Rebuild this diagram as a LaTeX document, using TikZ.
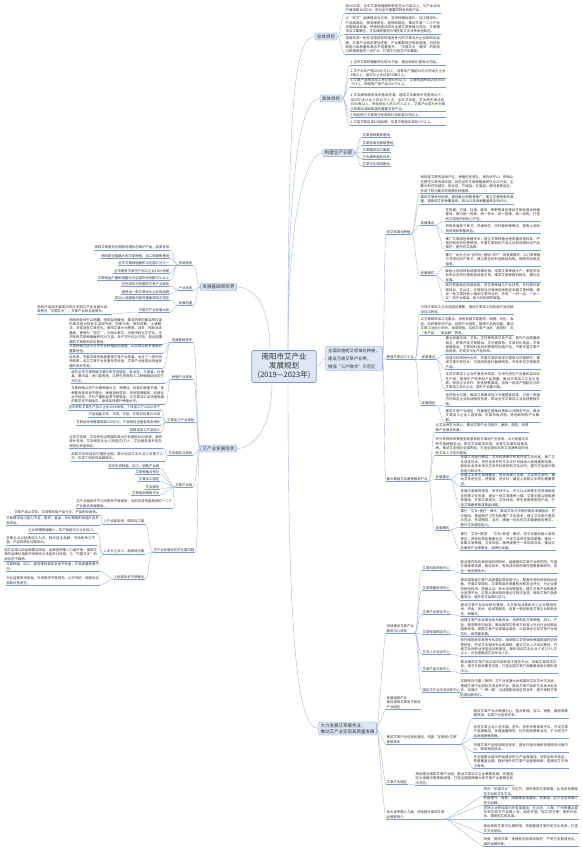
\documentclass[tikz,border=0pt]{standalone}
\usepackage{fontspec}
\setmainfont{Noto Sans CJK SC}
\XeTeXlinebreaklocale "zh"
\XeTeXlinebreakskip=0pt plus 1pt
\definecolor{txt}{HTML}{333333}
\definecolor{linkc}{HTML}{A7BADB}
\definecolor{ulc}{HTML}{7D9BD1}
\definecolor{boxfill}{HTML}{DCE6F4}
\definecolor{boxdraw}{HTML}{7E9ED3}
\newcommand\leaffont{\fontsize{3.4}{4.4}\selectfont}
\newcommand\boxfont{\fontsize{4.6}{5.6}\selectfont}
\newcommand\bigfont{\fontsize{4.3}{8}\selectfont}
\newcommand\bigfontb{\fontsize{4.5}{6}\selectfont}
\newcommand\rootfont{\fontsize{7.5}{9}\selectfont}
\tikzset{
  link/.style={draw=linkc, line width=0.4pt},
  uline/.style={draw=ulc, line width=0.5pt},
  tor/.style={out=0, in=180, out distance=#1, in distance=#1},
  tor/.default=4pt,
  tol/.style={out=180, in=0, out distance=#1, in distance=#1},
  tol/.default=4pt,
  rootbox/.style={draw=boxdraw, fill=boxfill, line width=0.8pt, rounded corners=2pt,
    font=\rootfont, text=txt, align=center, inner xsep=6pt, inner ysep=3pt},
  mainbox/.style={draw=boxdraw, fill=boxfill, line width=0.4pt, rounded corners=1.2pt,
    font=\boxfont, text=txt, align=center, inner xsep=1.8pt, inner ysep=1.4pt},
  txtline/.style={inner xsep=0.5pt, inner ysep=0.5pt, font=\leaffont, text=txt,
    append after command={\pgfextra{\let\mmnode\tikzlastnode}
      (\mmnode.south west) edge[uline] (\mmnode.south east)}},
  rblock/.style={txtline, anchor=south west, text width=#1, align=left},
  rblock/.default=93pt,
  lblock/.style={txtline, anchor=south east, text width=#1, align=left},
  lblock/.default=93pt,
  rtag/.style={txtline, anchor=south west, align=left},
  ltag/.style={txtline, anchor=south east, align=right},
}
\begin{document}
\begin{tikzpicture}[x=1pt,y=1pt]
\fill[white] (0,0) rectangle (583,-851);
\useasboundingbox (0,0) rectangle (583,-851);

% 中心主题
\node[rootbox] (zx) at (284,-366.5) {南阳市艾产业\\发展规划\\(2019—2023年)};

% 右侧主干
\node[mainbox] (zt) at (326,-36.5) {总体目标};
\node[mainbox] (jt) at (331,-98.5) {具体目标};
\node[mainbox] (qc) at (338.5,-153) {构建全产业链};
\node[mainbox, font=\bigfont, align=left, inner xsep=2.5pt, inner ysep=2pt] (bn1) at (354,-358.5)
  {全面实施宛艾标准化种植，\\建设万亩艾草产业带，\\做强“三产融合”示范区};
\node[mainbox, font=\bigfontb, align=left] (bn2) at (347.5,-728.5)
  {大力发展艾草服务业，\\推动艾产业实现高质量发展};

% 左侧主干
\node[mainbox] (jc) at (218.5,-287) {发展基础和优势};
\node[mainbox] (xz) at (218.5,-448.5) {艾产业发展现状};

% 总体目标
\node[rblock=95pt] (zt1) at (345,-13) {到2023年，全市艾草种植面积稳定在30万亩以上，艾产业综合产值突破300亿元，成为全市重要的特色优势产业。};
\node[rblock=95pt] (zt2) at (345,-34) {以“宛艾”品牌建设为引领，坚持种植标准化、加工精深化、产品高端化、服务康养化、营销网络化，推动艾草一二三产业深度融合发展，把南阳建设成为全国艾草种植示范区、艾草精深加工集聚区、艾灸康养服务引领区和艾文化传承创新区。};
\node[rblock=95pt] (zt3) at (345,-54) {培育形成一批在全国具有较强竞争力的艾草龙头企业和知名品牌，艾草产业链条更加完整，产业集群效应明显增强，科技创新能力和质量标准水平显著提升，“中国艾乡·南阳”的影响力和美誉度进一步扩大，打造千亿级艾产业集群。};

% 具体目标
\node[rblock=95pt] (jt1) at (350,-65) {1.全市艾草种植面积达到30万亩，建设标准化基地10万亩。};
\node[rblock=95pt] (jt2) at (350,-78) {2.艾产业年产值300亿元以上，培育年产值超10亿元的龙头企业5家以上，超亿元企业达到50家以上。};
\node[rblock=95pt] (jt3) at (350,-87) {3.艾草产品精深加工率达到60\%以上，艾草制品种类达到3000个以上，研发推广新产品200个以上。};
\node[rblock=95pt] (jt4) at (350,-111) {4.艾灸康养服务体系基本完善，建成艾灸康养示范基地20个，培训艾灸从业人员10万人次，全市艾灸馆、艾灸养生馆达到5000家以上，带动就业人员30万人以上，艾草产业成为乡村振兴和群众增收致富的重要支柱产业。};
\node[rblock=95pt] (jt5) at (350,-117) {5.制定修订艾草地方标准和行业标准15项以上。};
\node[rblock=95pt] (jt6) at (350,-125) {6.打造艾草区域公用品牌，培育中国驰名商标3个以上。};

% 全产业链
\node[rtag] (qc1) at (362,-137) {艾草良种繁育基地};
\node[rtag] (qc2) at (362,-145) {艾草标准化种植基地};
\node[rtag] (qc3) at (362,-152) {艾草精深加工集群};
\node[rtag] (qc4) at (362,-159) {艾灸康养服务体系};
\node[rtag] (qc5) at (362,-166) {艾草文化旅游融合};

% 宛艾标准化种植
\node[rtag] (la) at (386,-234) {宛艾标准化种植};
\node[rblock] (la1) at (420,-193) {南阳是艾草的道地产区，种植历史悠久，境内伏牛山、桐柏山区野生艾草资源丰富，目前全市艾草种植面积已达25万亩，主要分布在宛城区、卧龙区、方城县、社旗县、唐河县等县区，形成了较为集中的规模化种植带。};
\node[rblock] (la2) at (420,-204) {推进艾草良种选育、提纯复壮和繁育推广，建立艾草种质资源圃，提高宛艾良种覆盖率。到2023年良种覆盖率达到90\%。};
\node[rtag] (la3) at (420,-225) {发展重点};
\node[rblock=95pt] (la31) at (445,-221) {在宛城、方城、社旗、唐河、新野等县区建设艾草标准化种植基地，推行统一良种、统一技术、统一管理、统一收购，打造宛艾道地药材核心产区。};
\node[rblock=95pt] (la32) at (445,-233) {积极发展林下种艾、荒坡种艾、间作套种等模式，提高土地利用效率和种植效益。};
\node[rblock=95pt] (la33) at (445,-250) {推广艾草绿色种植技术，建立艾草种植全程质量追溯体系，严格控制农药化肥使用，开展艾草有机产品认证和地理标志产品保护，提升宛艾品质。};
\node[rtag] (la4) at (420,-275) {发展模式};
\node[rblock=95pt] (la41) at (445,-266) {推行“龙头企业+合作社+基地+农户”的发展模式，以订单种植方式带动农户种艾，建立稳定的利益联结机制，保障农民稳定增收。};
\node[rblock=95pt] (la42) at (445,-282) {鼓励土地流转和适度规模经营，培育艾草种植大户、家庭农场和专业合作社等新型经营主体，推进艾草种植机械化、集约化发展。};
\node[rblock=95pt] (la43) at (445,-301) {依托贫困地区资源优势，将艾草种植与产业扶贫、乡村振兴紧密结合，在山区、丘陵和沿河滩地因地制宜发展艾草种植，建设一批艾草特色小镇和艾草专业村，形成“一村一品、一乡一业”的产业格局，助力农民脱贫致富。};

% 做强艾草加工工业
\node[rtag] (lb) at (386,-359) {做强艾草加工工业};
\node[rblock] (lb1) at (420,-314) {引导艾草加工企业向园区集聚，推动艾草加工由初级产品向精深加工转变。};
\node[rblock] (lb2) at (420,-335) {以艾草精深加工为重点，加快发展艾草医药、保健、日化、食品、纺织等系列产品，延伸产业链条，提高产品附加值，推动艾草工业由小到大、由弱到强，实现艾草产业由“卖原料”向“卖产品”“卖品牌”转变。};
\node[rtag] (lb3) at (421,-359) {发展重点};
\node[rblock=95pt] (lb31) at (445,-354) {重点发展艾绒、艾条、艾柱等传统艾灸产品，提升产品质量和档次；积极开发艾草精油、艾叶提取物、艾草日化用品、艾草保健食品、艾草饲料添加剂等高附加值产品，不断丰富艾草产品种类，形成多元化产品体系。};
\node[rblock=95pt] (lb32) at (445,-369) {加强与科研院所合作，开展艾草药用成分提取与药理研究，推进艾草中药饮片、中成药和医疗器械研发，开发系列艾草医药产品。};
\node[rblock=95pt] (lb33) at (445,-390) {支持艾草加工企业开展技术改造，引进先进生产设备和自动化生产线，提高生产效率和产品质量；推动艾草加工企业与电商、物流企业合作，拓宽销售渠道，培育一批年产值超亿元的艾草加工龙头企业，提升产业集中度。};
\node[rtag] (lb4) at (421,-405) {发展路径};
\node[rblock=95pt] (lb41) at (445,-406) {坚持招大引强，围绕艾草精深加工开展精准招商，引进一批国内外知名企业和战略投资者，带动全市艾草加工业加快提档升级。};
\node[rblock=95pt] (lb42) at (445,-422) {建设艾草产业园区，完善园区基础设施和公共服务平台，推动艾草加工企业入园发展，形成布局合理、特色鲜明的产业集群。};

% 做大做强艾灸康养服务产业
\node[rtag] (lc) at (386,-481) {做大做强艾灸康养服务产业};
\node[rblock] (lc1) at (435,-432) {以艾灸养生为核心，推动艾草产业与医疗、康养、旅游、体育等产业融合发展。};
\node[rblock] (lc2) at (435,-455) {充分发挥张仲景医圣故里和宛艾道地产区优势，大力发展艾灸养生保健服务业，规范艾灸服务标准，培育艾灸服务连锁品牌，推动艾灸馆向全国布局，打造全国知名的艾灸康养目的地和艾灸人才培训基地。};
\node[rtag] (lc3) at (435,-479) {发展重点};
\node[rblock=95pt] (lc31) at (460,-473) {发展艾灸医疗服务，支持各级医疗机构开设艾灸科室，推广艾灸适宜技术，将符合条件的艾灸诊疗项目纳入医保报销范围，鼓励社会资本举办艾灸专科医院和艾灸诊所，提升艾灸医疗服务能力和水平。};
\node[rblock=95pt] (lc32) at (460,-486) {发展艾灸养生保健服务，规范发展艾灸馆、艾灸养生会所，推动艾灸进社区、进家庭、进乡村，满足人民群众多样化健康需求。};
\node[rblock=95pt] (lc33) at (460,-507) {发展艾草康养旅游，依托伏牛山、丹江口水库等生态资源和医圣祠等文化资源，建设一批艾草康养小镇、艾草主题公园和康养基地，开发艾草观光、艾灸体验、养生度假等旅游产品，打造艾草康养旅游精品线路。};
\node[rtag] (lc4) at (435,-530) {发展模式};
\node[rblock=95pt] (lc41) at (460,-527) {推行“艾灸+医疗”模式，推动艾灸与中医药服务深度融合，在中医院、基层医疗卫生机构推广艾灸技术，建立艾灸医疗服务示范点，形成预防、治疗、康复一体化的艾灸健康服务模式，提升艾灸服务能力。};
\node[rblock=95pt] (lc42) at (460,-550) {推行“艾灸+旅游”“艾灸+养老”模式，将艾灸服务融入旅游景区、养老机构和健康社区，开发艾灸养生旅游套餐，建设一批集艾草种植、艾灸体验、康养度假于一体的综合体，推动艾灸康养产业规模化、品牌化发展。};

% 服务中心体系
\node[rtag] (le) at (386,-633) {加快建设艾草产业\\服务中心体系};
\node[rtag] (le1) at (422,-570) {艾草科技研发中心};
\node[rblock=97pt] (le1b) at (460,-573) {联合国内知名高校和科研院所，组建南阳艾草产业研究院，开展艾草种质资源、栽培技术、有效成分和药理作用等基础研究，攻克一批关键技术。};
\node[rtag] (le2) at (422,-590) {艾草质量检测中心};
\node[rblock=97pt] (le2b) at (460,-600) {建设国家级艾草产品质量监督检验中心，配备先进的检验检测设备，开展艾草原料、艾草制品的质量检测和安全评价，为企业提供检验检测、质量认证、技术咨询等服务；建立艾草产品质量安全追溯平台，实现从田间到终端全过程可追溯，保障艾草产品质量安全，提升宛艾品牌公信力。};
\node[rtag] (le3) at (422,-614) {艾草产业孵化中心};
\node[rblock=97pt] (le3b) at (460,-616) {建设艾草产业创业孵化基地，为艾草创业者和中小企业提供场地、资金、技术、培训等服务，培育一批创新型艾草企业和新业态、新模式。};
\node[rtag] (le4) at (422,-634) {艾草标准制定中心};
\node[rblock=97pt] (le4b) at (460,-636) {组建艾草产业标准化技术委员会，加快制定艾草种植、加工、产品、服务等系列标准，推动南阳艾草地方标准上升为行业标准和国家标准，掌握艾草产业发展话语权，以标准化引领艾草产业规范化、高质量发展。};
\node[rtag] (le5) at (422,-654) {艾灸人才培训中心};
\node[rblock=97pt] (le5b) at (460,-656) {依托南阳医学高等专科学校、南阳理工学院张仲景国医国药学院等院校，开设艾灸相关专业和课程，建设艾灸人才培训基地，开展艾灸师职业技能培训和鉴定，每年培训艾灸从业人员2万人次以上，为全国输送艾灸专业人才。};
\node[rtag] (le6) at (422,-671) {艾草产品交易中心};
\node[rblock=97pt] (le6b) at (460,-673) {建设南阳艾草产品交易市场和电子商务平台，发展艾草现货交易、电子交易和期货交易，打造全国艾草产品集散地和价格形成中心。};
\node[rtag] (le7) at (422,-692) {国际艾产业交流合作中心};
\node[rblock=97pt] (le7b) at (460,-697) {定期举办中国（南阳）艾产业发展大会和国际艾灸学术交流会，搭建艾草产业国际交流合作平台，推动艾草产品和艾灸技术走出去，加强与“一带一路”沿线国家和地区的合作，提升南阳艾草的国际影响力。};

% 电商、信息化、园区、品牌
\node[rtag] (lf) at (386,-709) {发展电商产业\\建设南阳艾草电子商务\\产业园区};
\node[rtag] (lg) at (386,-744) {推进艾草产业信息化建设，构建“互联网+艾草”\\营销体系};
\node[rblock=95pt] (lg1) at (473,-718) {建设艾草产业大数据中心，整合种植、加工、销售、服务等数据资源，实现产业信息共享。};
\node[rblock=95pt] (lg2) at (473,-738) {支持艾草企业入驻天猫、京东、拼多多等电商平台，开设艾草产品旗舰店，发展直播带货、社交电商等新业态，扩大宛艾产品网络销售规模。};
\node[rblock=95pt] (lg3) at (473,-752) {完善艾草产品物流配送体系，建设冷链仓储和快递物流分拨中心，降低物流成本。};
\node[rblock=95pt] (lg4) at (473,-768) {在全国重点城市布局建设宛艾产品直营店、体验店和专卖店，构建覆盖全国、辐射海外的艾草产品营销网络，提高宛艾市场占有率。};
\node[rtag] (lh) at (386,-784) {艾草产业园区};
\node[rblock=98pt] (lh1) at (415,-785) {规划建设南阳艾草产业园，推动艾草加工企业集聚发展，完善园区水电路讯等基础设施，打造全国规模最大的艾草产业集聚区和示范区。};
\node[rtag] (li) at (386,-819) {加大宣传推介力度，持续提升南阳艾草\\品牌影响力};
\node[rblock=95pt] (li1) at (483,-796) {举办“中国艾乡”文化节，讲好南阳艾草故事，弘扬张仲景医圣文化和艾灸文化。};
\node[rblock=95pt] (li2) at (483,-805) {利用报刊、电视、网络等各类媒体，多渠道、全方位宣传推介宛艾品牌。};
\node[rblock=95pt] (li3) at (483,-819) {支持企业参加国内外各类展会，在北京、上海、广州等重点城市举办宛艾产品推介会，组织开展“宛艾进万家”等系列活动，提高宛艾知名度。};
\node[rblock=95pt] (li4) at (483,-833) {建设南阳艾草文化博物馆，挖掘整理艾草历史文化资源，打造艾文化地标。};
\node[rblock=95pt] (li5) at (483,-846) {加强“南阳艾草”地理标志和商标保护，严厉打击假冒伪劣，维护品牌形象。};

% 发展基础和优势
\node[ltag] (l1a) at (193,-265) {资源优势};
\node[ltag] (l1a1) at (170,-250) {南阳艾草被列为国家地理标志保护产品，品质优良};
\node[ltag] (l1a2) at (170,-258) {南阳是全国最大的艾草种植、加工和销售基地};
\node[ltag] (l1a3) at (170,-265) {全市艾草种植面积占全国三分之一};
\node[ltag] (l1a4) at (170,-273) {全市拥有艾草生产加工企业1000余家};
\node[ltag] (l1a5) at (170,-280) {艾草制品产量和销量均占全国市场份额70\%以上};
\node[ltag] (l1b) at (193,-290) {产业优势};
\node[ltag] (l1b1) at (170,-286) {已形成较为完整的艾草产业链条};
\node[ltag] (l1b2) at (170,-294) {涌现出一批艾草龙头企业和品牌};
\node[ltag] (l1c) at (193,-305) {发展机遇};
\node[ltag] (l1c1) at (170,-300) {成功入选国家中医药健康旅游示范区};
\node[ltag] (l1c2) at (170,-312) {中国艾产业发展大会};
\node[lblock=74pt] (l1c2a) at (112,-314) {南阳已连续多届成功举办中国艾产业发展大会，被誉为“中国艾乡”，艾草产业知名度提升。};

% 艾产业发展现状
\node[ltag] (l2a) at (193,-342) {发展基础条件};
\node[lblock] (l2a1) at (163,-344) {南阳地处伏牛山南麓、南阳盆地腹地，属亚热带向暖温带过渡的季风型大陆性半湿润气候，四季分明，雨热同期，土壤肥沃，非常适宜艾草生长。南阳艾草叶片肥厚、绒多、挥发油含量高，被誉为“宛艾”，与湖北蕲艾、河南汤阴北艾齐名。全市现有艾草种植面积约25万亩，年产艾叶约20万吨，是全国重要的艾草原料供应基地。};
\node[lblock] (l2a2) at (163,-353) {艾草种植已成为全市农业种植结构调整、山区群众脱贫增收的重要途径。};
\node[lblock] (l2a3) at (163,-368) {近年来，市委市政府高度重视艾草产业发展，出台了一系列扶持政策，设立艾草产业发展专项资金，艾草产业呈现出快速发展的良好态势。};
\node[ltag] (l2b) at (193,-379) {种植产业现状};
\node[lblock] (l2b1) at (165,-383) {目前全市艾草种植主要分布在宛城区、卧龙区、方城县、社旗县、唐河县、淅川县等地，以野生抚育和人工种植相结合的方式为主。};
\node[lblock] (l2b2) at (165,-404) {艾草种植以农户分散种植为主，规模化、标准化程度不高，良种繁育体系尚不健全，种植品种混杂，田间管理粗放，机械化水平较低，艾叶产量和品质不够稳定，与艾草加工业快速发展的需求还不相适应，亟待加快提升种植水平。};
\node[ltag] (l2c) at (195,-422) {艾草加工产业现状};
\node[ltag] (l2c1) at (161,-410) {全市现有艾草生产加工企业1500余家，个体加工户10000多户};
\node[ltag] (l2c2) at (161,-417) {产品涵盖艾条、艾绒、艾贴、艾草日化等10大类};
\node[ltag] (l2c3) at (161,-425) {艾制品年销售额突破100亿元，产品销往全国各地及海外};
\node[ltag] (l2c4) at (161,-432) {但精深加工产品较少};
\node[ltag] (l2d) at (193,-455) {艾灸服务业现状};
\node[lblock] (l2d1) at (163,-448) {全市艾灸馆、艾灸养生店等服务网点已发展到3000余家，遍布城乡各地，艾灸服务从业人员超过3万人，艾灸服务逐步走向规范化和连锁化。};
\node[lblock] (l2d2) at (165,-461) {南阳艾灸师培训已辐射全国，累计培训艾灸从业人员数万人次，形成了较好的品牌效应。};
\node[ltag] (l2e) at (193,-487) {艾草产业链};
\node[ltag] (l2e1) at (160,-468) {初步形成种植、加工、销售产业链};
\node[ltag] (l2e2) at (160,-474) {艾草种植合作社};
\node[ltag] (l2e3) at (160,-481) {艾草加工园区};
\node[ltag] (l2e4) at (160,-489) {艾灸服务};
\node[ltag] (l2e5) at (160,-495) {艾草电商销售平台};
\node[lblock=96pt] (l2e6) at (173,-508) {艾产业链各环节之间联系不够紧密，尚未形成完整高效的一二三产业融合发展格局。};
\node[ltag] (l2f) at (195,-552) {艾产业发展存在的主要问题};
\node[ltag] (l2f1) at (145,-524) {1.产业链条短，精深加工弱};
\node[ltag] (l2f11) at (100,-515) {艾草产品以艾条、艾绒等初级产品为主，产品附加值低。};
\node[lblock] (l2f12) at (100,-525) {艾草精深加工能力不足，医药、食品、日化等高附加值产品开发滞后。};
\node[ltag] (l2f2) at (145,-554) {2.龙头企业少，品牌效应弱};
\node[ltag] (l2f21) at (97,-533) {企业规模普遍偏小，年产值超亿元企业较少。};
\node[lblock=90pt] (l2f22) at (97,-545) {多数企业以贴牌加工为主，缺乏自主品牌，市场竞争力不强，产品同质化问题突出。};
\node[lblock] (l2f23) at (98,-561) {宛艾区域公用品牌建设滞后，品牌宣传推介力度不够，南阳艾草的品牌价值和市场影响力未能充分体现，与“中国艾乡”的地位还不相称。};
\node[ltag] (l2f3) at (145,-579) {3.标准体系不够健全};
\node[lblock] (l2f31) at (100,-571) {艾草种植、加工、服务等标准体系尚不完善，产品质量参差不齐。};
\node[lblock] (l2f32) at (100,-585) {行业监管有待加强，市场秩序不够规范，以次充好、假冒伪劣现象时有发生。};

% 中心连线
\draw[link] ([xshift=4pt]zx.north) to[out=90,in=180,out distance=250pt,in distance=20pt] (zt.west);
\draw[link] ([xshift=4pt]zx.north) to[out=90,in=180,out distance=190pt,in distance=18pt] (jt.west);
\draw[link] ([xshift=4pt]zx.north) to[out=90,in=180,out distance=140pt,in distance=16pt] (qc.west);
\draw[link] (zx.east) to[out=0,in=180] (bn1.west);
\draw[link] ([xshift=4pt]zx.south) to[out=-90,in=180,out distance=270pt,in distance=20pt] (bn2.west);
\draw[link] ([xshift=-14pt]zx.north) to[out=90,in=0,out distance=40pt,in distance=20pt] (jc.east);
\draw[link] ([xshift=-12pt]zx.south) to[out=-90,in=0,out distance=40pt,in distance=20pt] (xz.east);

% 右侧连线
\draw[link] (zt.east) to[tor] (zt1.south west);
\draw[link] (zt.east) to[tor] (zt2.south west);
\draw[link] (zt.east) to[tor] (zt3.south west);
\draw[link] (jt.east) to[tor] (jt1.south west);
\draw[link] (jt.east) to[tor] (jt2.south west);
\draw[link] (jt.east) to[tor] (jt3.south west);
\draw[link] (jt.east) to[tor] (jt4.south west);
\draw[link] (jt.east) to[tor] (jt5.south west);
\draw[link] (jt.east) to[tor] (jt6.south west);
\draw[link] (qc.east) to[tor] (qc1.south west);
\draw[link] (qc.east) to[tor] (qc2.south west);
\draw[link] (qc.east) to[tor] (qc3.south west);
\draw[link] (qc.east) to[tor] (qc4.south west);
\draw[link] (qc.east) to[tor] (qc5.south west);
\draw[link] (bn1.east) to[tor=2pt] (la.south west);
\draw[link] (bn1.east) to[tor=2pt] (lb.south west);
\draw[link] (bn1.east) to[tor=2pt] (lc.south west);
\draw[link] (la.south east) to[tor] (la1.south west);
\draw[link] (la.south east) to[tor] (la2.south west);
\draw[link] (la.south east) to[tor] (la3.south west);
\draw[link] (la.south east) to[tor] (la4.south west);
\draw[link] (la3.south east) to[tor] (la31.south west);
\draw[link] (la3.south east) to[tor] (la32.south west);
\draw[link] (la3.south east) to[tor] (la33.south west);
\draw[link] (la4.south east) to[tor] (la41.south west);
\draw[link] (la4.south east) to[tor] (la42.south west);
\draw[link] (la4.south east) to[tor] (la43.south west);
\draw[link] (lb.south east) to[tor] (lb1.south west);
\draw[link] (lb.south east) to[tor] (lb2.south west);
\draw[link] (lb.south east) to[tor] (lb3.south west);
\draw[link] (lb.south east) to[tor] (lb4.south west);
\draw[link] (lb3.south east) to[tor] (lb31.south west);
\draw[link] (lb3.south east) to[tor] (lb32.south west);
\draw[link] (lb3.south east) to[tor] (lb33.south west);
\draw[link] (lb4.south east) to[tor] (lb41.south west);
\draw[link] (lb4.south east) to[tor] (lb42.south west);
\draw[link] (lc.south east) to[tor] (lc1.south west);
\draw[link] (lc.south east) to[tor] (lc2.south west);
\draw[link] (lc.south east) to[tor] (lc3.south west);
\draw[link] (lc.south east) to[tor] (lc4.south west);
\draw[link] (lc3.south east) to[tor] (lc31.south west);
\draw[link] (lc3.south east) to[tor] (lc32.south west);
\draw[link] (lc3.south east) to[tor] (lc33.south west);
\draw[link] (lc4.south east) to[tor] (lc41.south west);
\draw[link] (lc4.south east) to[tor] (lc42.south west);
\draw[link] (bn2.east) to[tor=2pt] (le.south west);
\draw[link] (bn2.east) to[tor=2pt] (lf.south west);
\draw[link] (bn2.east) to[tor=2pt] (lg.south west);
\draw[link] (bn2.east) to[tor=2pt] (lh.south west);
\draw[link] (bn2.east) to[tor=2pt] (li.south west);
\draw[link] (le.south east) to[tor] (le1.south west);
\draw[link] (le.south east) to[tor] (le2.south west);
\draw[link] (le.south east) to[tor] (le3.south west);
\draw[link] (le.south east) to[tor] (le4.south west);
\draw[link] (le.south east) to[tor] (le5.south west);
\draw[link] (le.south east) to[tor] (le6.south west);
\draw[link] (le.south east) to[tor] (le7.south west);
\draw[link] (le1.south east) to[tor] (le1b.south west);
\draw[link] (le2.south east) to[tor] (le2b.south west);
\draw[link] (le3.south east) to[tor] (le3b.south west);
\draw[link] (le4.south east) to[tor] (le4b.south west);
\draw[link] (le5.south east) to[tor] (le5b.south west);
\draw[link] (le6.south east) to[tor] (le6b.south west);
\draw[link] (le7.south east) to[tor] (le7b.south west);
\draw[link] (lg.south east) to[tor] (lg1.south west);
\draw[link] (lg.south east) to[tor] (lg2.south west);
\draw[link] (lg.south east) to[tor] (lg3.south west);
\draw[link] (lg.south east) to[tor] (lg4.south west);
\draw[link] (lh.south east) to[tor] (lh1.south west);
\draw[link] (li.south east) to[tor] (li1.south west);
\draw[link] (li.south east) to[tor] (li2.south west);
\draw[link] (li.south east) to[tor] (li3.south west);
\draw[link] (li.south east) to[tor] (li4.south west);
\draw[link] (li.south east) to[tor] (li5.south west);

% 左侧连线
\draw[link] (jc.west) to[tol] (l1a.south east);
\draw[link] (jc.west) to[tol] (l1b.south east);
\draw[link] (jc.west) to[tol] (l1c.south east);
\draw[link] (l1a.south west) to[tol] (l1a1.south east);
\draw[link] (l1a.south west) to[tol] (l1a2.south east);
\draw[link] (l1a.south west) to[tol] (l1a3.south east);
\draw[link] (l1a.south west) to[tol] (l1a4.south east);
\draw[link] (l1a.south west) to[tol] (l1a5.south east);
\draw[link] (l1b.south west) to[tol] (l1b1.south east);
\draw[link] (l1b.south west) to[tol] (l1b2.south east);
\draw[link] (l1c.south west) to[tol] (l1c1.south east);
\draw[link] (l1c.south west) to[tol] (l1c2.south east);
\draw[link] (l1c2.south west) to[tol] (l1c2a.south east);
\draw[link] (xz.west) to[tol] (l2a.south east);
\draw[link] (xz.west) to[tol] (l2b.south east);
\draw[link] (xz.west) to[tol] (l2c.south east);
\draw[link] (xz.west) to[tol] (l2d.south east);
\draw[link] (xz.west) to[tol] (l2e.south east);
\draw[link] (xz.west) to[tol] (l2f.south east);
\draw[link] (l2a.south west) to[tol] (l2a1.south east);
\draw[link] (l2a.south west) to[tol] (l2a2.south east);
\draw[link] (l2a.south west) to[tol] (l2a3.south east);
\draw[link] (l2b.south west) to[tol] (l2b1.south east);
\draw[link] (l2b.south west) to[tol] (l2b2.south east);
\draw[link] (l2c.south west) to[tol] (l2c1.south east);
\draw[link] (l2c.south west) to[tol] (l2c2.south east);
\draw[link] (l2c.south west) to[tol] (l2c3.south east);
\draw[link] (l2c.south west) to[tol] (l2c4.south east);
\draw[link] (l2d.south west) to[tol] (l2d1.south east);
\draw[link] (l2d.south west) to[tol] (l2d2.south east);
\draw[link] (l2e.south west) to[tol] (l2e1.south east);
\draw[link] (l2e.south west) to[tol] (l2e2.south east);
\draw[link] (l2e.south west) to[tol] (l2e3.south east);
\draw[link] (l2e.south west) to[tol] (l2e4.south east);
\draw[link] (l2e.south west) to[tol] (l2e5.south east);
\draw[link] (l2e.south west) to[tol] (l2e6.south east);
\draw[link] (l2f.south west) to[tol] (l2f1.south east);
\draw[link] (l2f.south west) to[tol] (l2f2.south east);
\draw[link] (l2f.south west) to[tol] (l2f3.south east);
\draw[link] (l2f1.south west) to[tol] (l2f11.south east);
\draw[link] (l2f1.south west) to[tol] (l2f12.south east);
\draw[link] (l2f2.south west) to[tol] (l2f21.south east);
\draw[link] (l2f2.south west) to[tol] (l2f22.south east);
\draw[link] (l2f2.south west) to[tol] (l2f23.south east);
\draw[link] (l2f3.south west) to[tol] (l2f31.south east);
\draw[link] (l2f3.south west) to[tol] (l2f32.south east);
\end{tikzpicture}
\end{document}
